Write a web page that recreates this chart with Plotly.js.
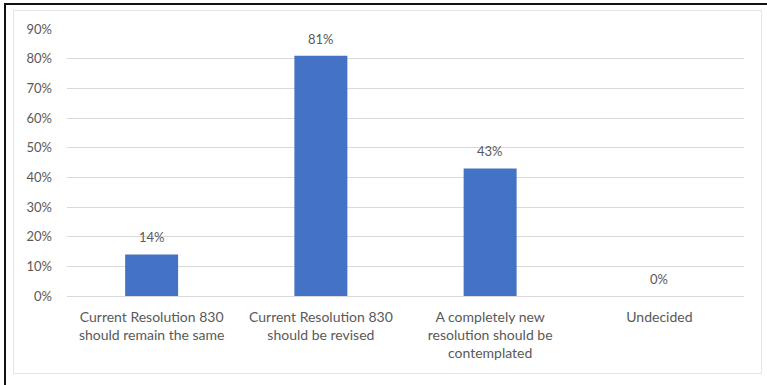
<!DOCTYPE html>
<html>
<head>
<meta charset="utf-8">
<script src="https://cdn.plot.ly/plotly-3.0.1.min.js"></script>
<style>
  html, body { margin: 0; padding: 0; background: #ffffff; }
  #wrap { position: relative; width: 767px; height: 385px; overflow: hidden; background: #ffffff; }
  #frame { position: absolute; left: 4px; top: 3px; width: 800px; height: 400px;
           border-left: 2px solid #111; border-top: 2px solid #111; }
  #panel { position: absolute; left: 13px; top: 10px; width: 747px; height: 362px;
           border: 1px solid #e4e4e4; }
  #chart { position: absolute; left: 0; top: 0; width: 767px; height: 385px; }
</style>
</head>
<body>
<div id="wrap">
  <div id="frame"></div>
  <div id="panel"></div>
  <div id="chart"></div>
</div>
<script>
// Survey responses on Resolution 830
const categories = [
  "Current Resolution 830<br>should remain the same",
  "Current Resolution 830<br>should be revised",
  "A completely new<br>resolution should be<br>contemplated",
  "Undecided"
];
const shares = [0.14, 0.81, 0.43, 0.00];
const yTicks = [0, 0.1, 0.2, 0.3, 0.4, 0.5, 0.6, 0.7, 0.8, 0.9];

const textColor = "#595959";
const font = { family: "Lato, 'Open Sans', sans-serif", size: 14, color: textColor };
const axisFont = { family: "Lato, 'Open Sans', sans-serif", size: 13, color: textColor };

const trace = {
  type: "bar",
  x: categories,
  y: shares,
  marker: { color: "#4472C4" },
  hoverinfo: "skip"
};

// value labels above each bar
const labels = categories.map((c, i) => ({
  x: c,
  y: shares[i],
  xref: "x",
  yref: "y",
  text: Math.round(shares[i] * 100) + "%",
  showarrow: false,
  yanchor: "bottom",
  yshift: 7,
  font: axisFont
}));

const layout = {
  width: 767,
  height: 385,
  margin: { l: 67, r: 23, t: 29, b: 89 },
  paper_bgcolor: "rgba(0,0,0,0)",
  plot_bgcolor: "rgba(0,0,0,0)",
  bargap: 0.687,
  showlegend: false,
  font: font,
  xaxis: {
    type: "category",
    showgrid: false,
    showline: false,
    zeroline: false,
    ticks: "",
    ticklabelstandoff: 11,
    tickfont: font
  },
  yaxis: {
    range: [0, 0.9],
    tickvals: yTicks,
    tickformat: ".0%",
    showgrid: true,
    gridcolor: "#d9d9d9",
    gridwidth: 1,
    zeroline: true,
    zerolinecolor: "#d9d9d9",
    zerolinewidth: 1,
    showline: false,
    ticks: "",
    ticklabelstandoff: 14,
    tickfont: axisFont
  },
  annotations: labels
};

Plotly.newPlot("chart", [trace], layout, { staticPlot: true, displayModeBar: false });
</script>
</body>
</html>
